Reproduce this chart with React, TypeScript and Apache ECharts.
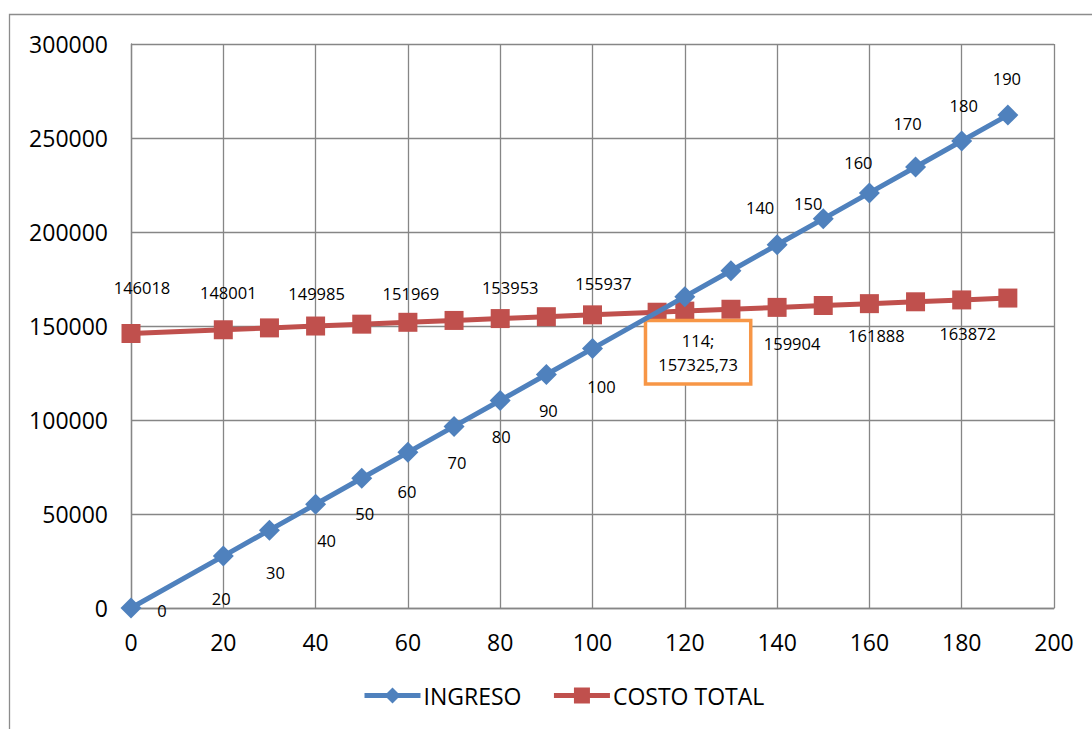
import React, { useEffect, useRef } from "react";
import * as echarts from "echarts";

// Units sold (x) for each series
const ingresoUnits = [0, 20, 30, 40, 50, 60, 70, 80, 90, 100, 120, 130, 140, 150, 160, 170, 180, 190];
const ingresoValues = [
  0, 27600, 41400, 55200, 69000, 82800, 96600, 110400, 124200, 138000, 165600, 179400, 193200, 207000,
  220800, 234600, 248400, 262200,
];

const costoUnits = [0, 20, 30, 40, 50, 60, 70, 80, 90, 100, 114, 120, 130, 140, 150, 160, 170, 180, 190];
const costoValues = [
  146018, 148001, 148993, 149985, 150977, 151969, 152961, 153953, 154945, 155937, 157325.73, 157921, 158913,
  159904, 160896, 161888, 162880, 163872, 164864,
];

// Break-even point (units; total cost)
const breakEvenUnits = 114;

const xTicks = { min: 0, max: 200, interval: 20 };
const yTicks = { min: 0, max: 300000, interval: 50000 };

// Label placement (pixel offset from the marker centre), keyed by units
const ingresoLabelOffsets: Record<number, [number, number]> = {
  0: [31, 2],
  20: [-2, 42],
  30: [6, 42],
  40: [11, 36],
  50: [3, 35],
  60: [-1, 39],
  70: [3, 36],
  80: [1, 36],
  90: [2, 36],
  100: [9, 38],
  140: [-17, -37],
  150: [-15, -15],
  160: [-11, -30],
  170: [-8, -43],
  180: [2, -36],
  190: [-1, -37],
};
const costoLabelOffsets: Record<number, [number, number]> = {
  0: [11, -46],
  20: [5, -37],
  40: [1, -33],
  60: [3, -29],
  80: [10, -31],
  100: [11, -31],
  114: [41, 40],
  140: [15, 36],
  160: [7, 32],
  180: [6, 34],
};

const FONT = "'Open Sans', 'Noto Sans', sans-serif";
const BLUE = "#4F81BD";
const RED = "#C0504D";
const GRID = "#868686";

export default function App() {
  const ref = useRef<HTMLDivElement>(null);

  useEffect(() => {
    document.body.style.margin = "0";
    if (!ref.current) return;
    const chart = echarts.init(ref.current, undefined, { renderer: "svg" });

    const baseLabel = {
      show: true,
      position: "inside",
      align: "center",
      verticalAlign: "middle",
      color: "#000",
      fontSize: 16.5,
      fontFamily: FONT,
    };

    const ingresoData = ingresoUnits.map((x, i) => {
      const off = ingresoLabelOffsets[x];
      return {
        value: [x, ingresoValues[i]],
        label: off ? { ...baseLabel, offset: off, formatter: String(x) } : { show: false },
      };
    });

    const costoData = costoUnits.map((x, i) => {
      const off = costoLabelOffsets[x];
      const y = costoValues[i];
      if (!off) return { value: [x, y], label: { show: false } };
      if (x === breakEvenUnits) {
        return {
          value: [x, y],
          label: {
            ...baseLabel,
            offset: off,
            formatter: `${x};\n${y.toFixed(2).replace(".", ",")}`,
            borderColor: "#F79646",
            borderWidth: 3.5,
            backgroundColor: "#ffffff",
            padding: [7, 11, 5, 11],
            lineHeight: 24,
          },
        };
      }
      return {
        value: [x, y],
        label: { ...baseLabel, offset: off, formatter: String(Math.round(y)) },
      };
    });

    chart.setOption({
      animation: false,
      backgroundColor: "#ffffff",
      textStyle: { fontFamily: FONT },
      grid: { left: 131, right: 38, top: 44, bottom: 121, containLabel: false },
      graphic: [
        {
          type: "rect",
          shape: { x: 9.5, y: 14.5, width: 1100, height: 740 },
          style: { fill: "none", stroke: "#8c8c8c", lineWidth: 1.3 },
          silent: true,
          z: -10,
        },
      ],
      legend: {
        bottom: 17,
        left: 357,
        itemWidth: 56,
        itemHeight: 20,
        itemGap: 30,
        lineStyle: { width: 5 },
        textStyle: { fontSize: 23, color: "#000", fontFamily: FONT, padding: [0, 0, 0, -2] },
        data: ["INGRESO", "COSTO TOTAL"],
      },
      xAxis: {
        type: "value",
        min: xTicks.min,
        max: xTicks.max,
        interval: xTicks.interval,
        axisLine: { show: true, lineStyle: { color: GRID, width: 1.3 } },
        axisTick: { show: false },
        splitLine: { show: true, lineStyle: { color: GRID, width: 1.3 } },
        axisLabel: { fontSize: 23, color: "#000", margin: 22, fontFamily: FONT },
      },
      yAxis: {
        type: "value",
        min: yTicks.min,
        max: yTicks.max,
        interval: yTicks.interval,
        axisLine: { show: true, lineStyle: { color: GRID, width: 1.3 } },
        axisTick: { show: false },
        splitLine: { show: true, lineStyle: { color: GRID, width: 1.3 } },
        axisLabel: {
          fontSize: 23,
          color: "#000",
          margin: 23,
          fontFamily: FONT,
          formatter: (v: number) => String(v),
        },
      },
      series: [
        {
          name: "INGRESO",
          type: "line",
          data: ingresoData,
          symbol: "diamond",
          symbolSize: 21,
          showAllSymbol: true,
          color: BLUE,
          lineStyle: { color: BLUE, width: 5 },
          itemStyle: { color: BLUE },
          z: 3,
        },
        {
          name: "COSTO TOTAL",
          type: "line",
          data: costoData,
          symbol: "rect",
          symbolSize: 19,
          showAllSymbol: true,
          color: RED,
          lineStyle: { color: RED, width: 5 },
          itemStyle: { color: RED },
          z: 2,
        },
      ],
    });

    return () => chart.dispose();
  }, []);

  return <div ref={ref} style={{ width: 1092, height: 729 }} />;
}
